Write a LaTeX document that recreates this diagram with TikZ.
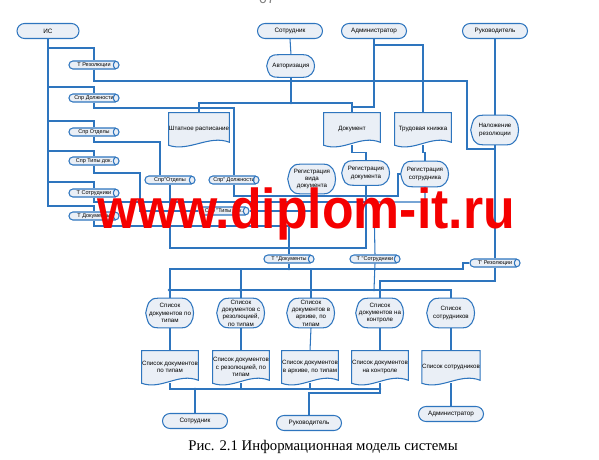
\documentclass[tikz,border=0pt]{standalone}
\usepackage{fontspec}
\setmainfont{Liberation Serif}
\newfontfamily\lblfont{Liberation Sans}
\usetikzlibrary{calc}
\usetikzlibrary{shapes.misc}
\pgfdeclarelayer{bg}
\pgfsetlayers{bg,main}
\definecolor{lineblue}{RGB}{46,117,190}
\definecolor{boxfill}{RGB}{234,239,246}
\definecolor{wmred}{RGB}{245,0,0}

\begin{document}
\begin{tikzpicture}[
	x=0.025cm, y=-0.025cm,
	line/.style={draw=lineblue, line width=0.75pt},
	term/.style={rounded rectangle, draw=lineblue, line width=0.75pt, fill=boxfill, minimum width=1.625cm, minimum height=0.375cm, inner sep=0pt, font=\lblfont\fontsize{4.5}{5}\selectfont},
	store/.style={rounded rectangle, draw=lineblue, line width=0.75pt, fill=boxfill, minimum width=1.275cm, minimum height=0.2cm, inner sep=0.3pt, font=\lblfont\fontsize{3.9}{4.5}\selectfont},
	disp/.style={minimum width=1.2cm, minimum height=0.725cm, inner sep=0pt, align=center, font=\lblfont\fontsize{4.4}{5.2}\selectfont},
	docu/.style={minimum width=1.4cm, minimum height=0.8cm, inner sep=0pt, align=center, font=\lblfont\fontsize{4.4}{5.2}\selectfont},
	shapeline/.style={draw=lineblue, line width=0.75pt, fill=boxfill},
	dot/.style={circle, fill=lineblue, inner sep=0pt, minimum size=1.8pt},
]
\useasboundingbox (0,0) rectangle (599,460);

% terminators
\node[term, minimum width=1.55cm] (is) at (48,31) {ИС};
\node[term] (emp) at (290,31) {Сотрудник};
\node[term] (adm) at (374,31) {Администратор};
\node[term] (boss) at (495,31) {Руководитель};
\node[term] (emp2) at (195,421) {Сотрудник};
\node[term] (boss2) at (309,423) {Руководитель};
\node[term] (adm2) at (451,414) {Администратор};

% tables and lookups
\node[store] (ltrez) at (94,65) {Т Резолюции};
\node[store] (lsd) at (94,98) {Спр Должности};
\node[store] (lso) at (94,132) {Спр Отделы};
\node[store] (lspt) at (94,161) {Спр Типы док.};
\node[store] (ltsot) at (94,193) {Т Сотрудники};
\node[store] (ltdoc) at (94,216) {Т Документы};
\node[store] (mso) at (170,180) {Спр"Отделы};
\node[store] (msd) at (234,180) {Спр" Должности};
\node[store] (mspt) at (224,211) {Спр "Типы док.};
\node[store] (tdoc) at (289,259) {Т "Документы};
\node[store] (tsot) at (375,259) {Т "Сотрудники};
\node[store] (trez) at (495,263) {Т' Резолюции};

% processes
\node[disp, minimum height=0.55cm] (auth) at (291,66) {Авторизация};
\node[disp] (nal) at (495,130) {Наложение\\резолюции};
\node[disp] (regvd) at (312,179) {Регистрация\\вида\\документа};
\node[disp, minimum height=0.6cm] (regd) at (366,173) {Регистрация\\документа};
\node[disp, minimum height=0.625cm] (regs) at (425,174) {Регистрация\\сотрудника};
\node[disp] (l1) at (170,313) {Список\\документов по\\типам};
\node[disp] (l2) at (241,313) {Список\\документов с\\резолюцией,\\по типам};
\node[disp] (l3) at (311,313) {Список\\документов в\\архиве, по\\типам};
\node[disp] (l4) at (380,313) {Список\\документов на\\контроле};
\node[disp] (l5) at (451,313) {Список\\сотрудников};

% documents
\node[docu] (shtat) at (199,129) {Штатное расписание};
\node[docu] (doc) at (352,129) {Документ};
\node[docu] (trud) at (423,129) {Трудовая книжка};
\node[docu] (d1) at (170,367) {Список документов\\по типам};
\node[docu] (d2) at (241,367) {Список документов\\с резолюцией, по\\типам};
\node[docu] (d3) at (310,367) {Список документов\\в архиве, по типам};
\node[docu] (d4) at (380,367) {Список документов\\на контроле};
\node[docu] (d5) at (451,367) {Список сотрудников};

\begin{pgfonlayer}{bg}
\foreach \n in {auth,nal,regvd,regd,regs,l1,l2,l3,l4,l5}
	\draw[shapeline] (\n.west) .. controls ($(\n.west)+(2,-9)$) and ($(\n.north west)+(3,0)$) .. ($(\n.north west)+(12,0)$) -- ($(\n.north east)+(-12,0)$) .. controls ($(\n.north east)+(3,0)$) and ($(\n.south east)+(3,0)$) .. ($(\n.south east)+(-12,0)$) -- ($(\n.south west)+(12,0)$) .. controls ($(\n.south west)+(3,0)$) and ($(\n.west)+(2,9)$) .. (\n.west) -- cycle;
\foreach \n in {shtat,doc,trud,d1,d2,d3,d4,d5}
	\draw[shapeline] (\n.south west) -- (\n.north west) -- (\n.north east) -- ($(\n.south east)+(0,-3)$) .. controls ($(\n.south east)+(-20,-11)$) and ($(\n.south west)+(20,7)$) .. (\n.south west) -- cycle;
\end{pgfonlayer}

\foreach \n in {ltrez,lsd,lso,lspt,ltsot,ltdoc,mso,msd,mspt,tdoc,tsot,trez}
	\draw[line] ($(\n.east)+(-4,-4)$) .. controls ($(\n.east)+(-7,-1.5)$) and ($(\n.east)+(-7,1.5)$) .. ($(\n.east)+(-4,4)$);

% IS trunk
\foreach \n/\y in {ltrez/48,lsd/87,lso/121,lspt/151,ltsot/182,ltdoc/206}
	\draw[line] (is.south) |- (\n.north |- 0,\y) -- (\n.north);

% left tables out
\draw[line] (ltrez.south) |- (467,81) |- (495,149) -- (nal.south);
\draw[line] (lsd.south) |- (234,108) -- (msd.north);
\draw[line] (lso.south) |- (160,142) -- (mso.north -| 160,0);
\draw[line] (lspt.south) |- (140,173) |- (mspt.west);
\draw[line] (ltsot.south) |- (374,202);
\draw[line] (ltdoc.south) |- (289,226) -- (tdoc.north);

% top part
\draw[line] (emp.south) -- (auth.north);
\draw[line] (auth.south) |- (199,103) -- (shtat.north);
\draw[line] (auth.south) |- (352,103) -- (doc.north);
\draw[line] (adm.south) |- (423,45) -- (trud.north);
\draw[line] (adm.south) |- (352,107);
\draw[line] (boss.south) -- (nal.north);
\draw[line] (nal.south) -- (trez.north);
\draw[line] (doc.south) -- ++(0,7) -| (regd.north);
\draw[line] (trud.south) -- ++(0,7) -| (regs.north);

% registration
\draw[line] (regd.south) |- (289,248);
\draw[line] (mso.south) |- (289,248);
\draw[line] (regs.south) |- (374,202) -- (tsot.north);
\draw[line] (regvd.south) |- (mspt.east);
\draw[line] (msd.south) |- (398,196) |- (regs.west);

% lists
\coordinate (busA) at (289,269);
\coordinate (busB) at (374,290);
\draw[line] (tdoc.south) -- (busA);
\draw[line] (trez.west) -| (463,269) -- (busA);
\foreach \n in {l1,l2,l3}
	\draw[line] (busA) -| (\n.north);
\draw[line] (tsot.south) -- (busB);
\draw[line] (trez.south) |- (380,281) |- (busB);
\foreach \n in {l1,l2,l3,l4,l5}
	\draw[line] (busB) -| (\n.north);
\foreach \n/\m in {l1/d1,l2/d2,l3/d3,l4/d4,l5/d5}
	\draw[line] (\n.south) -- (\m.north);

% reports
\coordinate (busC) at (195,389);
\coordinate (busD) at (309,393);
\foreach \m in {d1,d2,d3,d4}
	\draw[line] (\m.south) |- (busC);
\draw[line] (busC) -- (emp2.north);
\draw[line] (d4.south) |- (busD) -- (boss2.north);
\draw[line] (d5.south) -- (adm2.north);

\foreach \p in {(291,81),(374,81),(423,81),(291,103),(374,202),(289,248),(289,269),(374,290),(169,290),(240,290),(311,290),(195,389),(380,389)}
	\node[dot] at \p {};

\node[text=gray, font=\lblfont\fontsize{10}{10}\selectfont] (pgnum) at (267,-1) {07};
\node[anchor=base, inner sep=0pt, xscale=0.92, text=wmred, font=\lblfont\bfseries\fontsize{40}{40}\selectfont] (wm) at (306,228) {www.diplom-it.ru};
\node[font=\fontsize{10.5}{12}\selectfont] (cap) at (323,447) {Рис. 2.1 Информационная модель системы};
\end{tikzpicture}
\end{document}
